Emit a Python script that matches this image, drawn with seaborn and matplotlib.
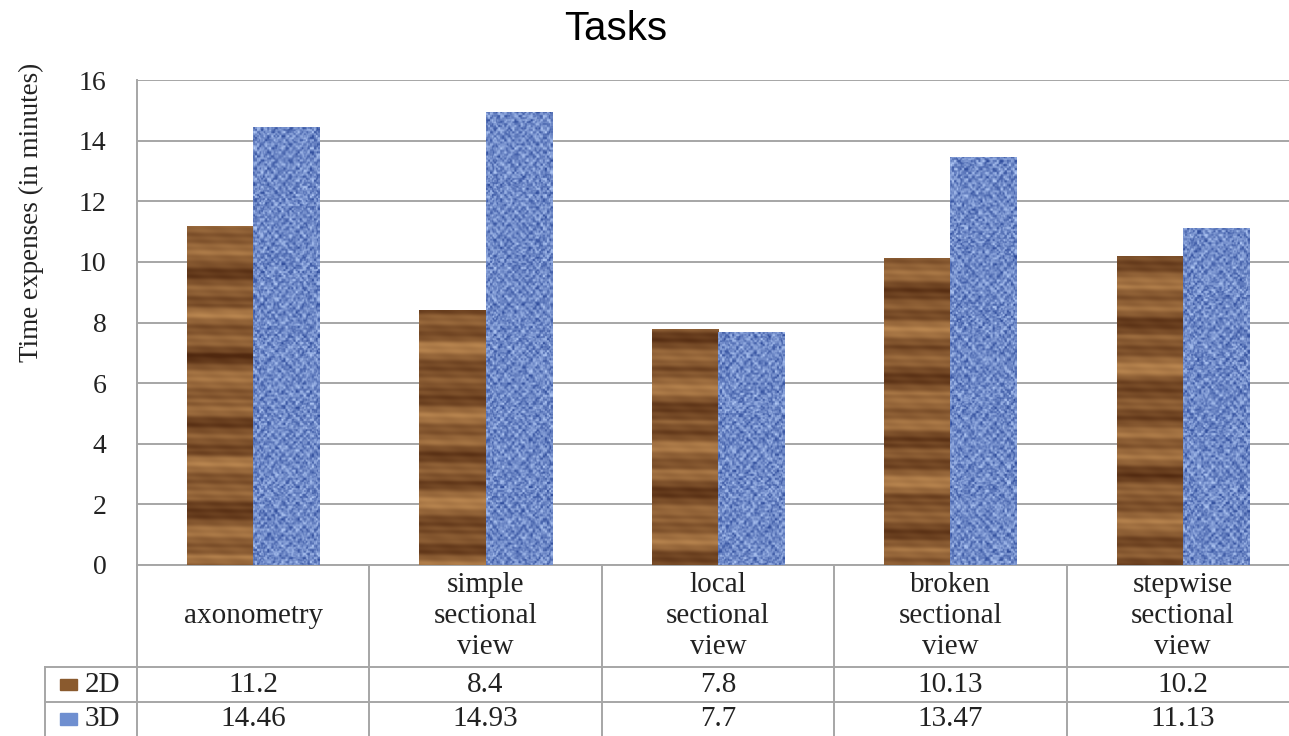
import numpy as np
import pandas as pd
import seaborn as sns
import matplotlib.pyplot as plt
from matplotlib.patches import Rectangle

# Chart data
tasks = ["axonometry", "simple\nsectional\nview", "local\nsectional\nview",
         "broken\nsectional\nview", "stepwise\nsectional\nview"]
values_2d = [11.2, 8.4, 7.8, 10.13, 10.2]
values_3d = [14.46, 14.93, 7.7, 13.47, 11.13]
series = ["2D", "3D"]
y_ticks = [0, 2, 4, 6, 8, 10, 12, 14, 16]

BROWN = "#8a5a2e"
BLUE = "#6f8fd0"
GRID = "#a6a6a6"


def hash_noise(x, y, seed):
    # deterministic pseudo noise for the fabric look
    v = np.sin(x * 12.9898 + y * 78.233 + seed * 3.17) * 43758.5453
    return v - np.floor(v)


def wood_texture(h, w, phase):
    y, x = np.mgrid[0:h, 0:w].astype(float)
    v = (0.55 + 0.20 * np.sin(y * 0.21 + phase + 0.8 * np.sin(y * 0.05))
         + 0.16 * np.sin(y * 0.083 + 2 * phase)
         - 0.22 * np.clip(np.sin(y * 0.13 + 3 * phase), 0.85, 1.0) * 4 + 0.7
         + 0.06 * np.sin(y * 0.9 + x * 0.02)
         + 0.03 * np.sin(x * 0.2 + y * 0.3))
    v = np.clip(v, 0, 1)
    dark = np.array([80, 40, 15]) / 255
    light = np.array([192, 140, 84]) / 255
    return dark + (light - dark) * v[..., None]


def fabric_texture(h, w, seed):
    y, x = np.mgrid[0:h, 0:w].astype(float)
    weave = 0.5 + 0.25 * np.sign(np.sin(x * 0.9)) * np.sin(y * 0.8) \
        + 0.2 * np.sin(x * 0.45 + 1.0) * np.sin(y * 0.4)
    v = 0.55 * weave + 0.45 * hash_noise(np.floor(x / 2), np.floor(y / 2), seed)
    v = np.clip(v, 0, 1)
    dark = np.array([38, 68, 150]) / 255
    light = np.array([185, 208, 250]) / 255
    return dark + (light - dark) * v[..., None]


df = pd.DataFrame({
    "Task": tasks * 2,
    "Time": values_2d + values_3d,
    "Mode": [series[0]] * len(tasks) + [series[1]] * len(tasks),
})

plt.rcParams["font.family"] = ["Liberation Serif", "DejaVu Serif"]

fig = plt.figure(figsize=(12.89, 7.36), dpi=100)
ax = fig.add_axes([137 / 1289, 1 - 565 / 736, 1162 / 1289, 485 / 736])

sns.barplot(data=df, x="Task", y="Time", hue="Mode", palette=[BROWN, BLUE],
            width=0.57, gap=0, legend=False, edgecolor="none", ax=ax,
            zorder=2)

# textures clipped to each bar
for k, container in enumerate(ax.containers):
    for j, bar in enumerate(container):
        x0, y0 = bar.get_x(), bar.get_y()
        bw, bh = bar.get_width(), bar.get_height()
        rows = max(int(bh * 30), 2)
        tex = wood_texture(rows, 66, j * 1.3) if k == 0 else fabric_texture(rows, 66, j)
        im = ax.imshow(tex, extent=[x0, x0 + bw, y0, y0 + bh], origin="lower",
                       aspect="auto", interpolation="bilinear", zorder=3)
        im.set_clip_path(bar)

ax.set_xlim(-0.5, len(tasks) - 0.5)
ax.set_ylim(0, 16)
ax.set_yticks(y_ticks)
ax.yaxis.grid(True, color=GRID, linewidth=1.4)
ax.set_axisbelow(True)
ax.tick_params(axis="y", length=0, pad=22, labelsize=20, colors="#222222")
ax.tick_params(axis="x", length=0, labelbottom=False)
ax.set_xlabel("")
ax.set_ylabel("")
for side in ["top", "right"]:
    ax.spines[side].set_visible(False)
for side in ["left", "bottom"]:
    ax.spines[side].set_color(GRID)
    ax.spines[side].set_linewidth(1.4)

# data table below the axis
xt = ax.get_xaxis_transform()
row_top, row_mid, row_bot = -0.2103, -0.2825, -0.3526
left_col = -0.0792
for b in np.arange(-0.5, len(tasks) + 0.5, 1.0):
    ax.plot([b, b], [0, row_bot], transform=xt, color=GRID, lw=1.4, clip_on=False)
for yy in [row_top, row_mid]:
    ax.plot([left_col, 1.0], [yy, yy], transform=ax.transAxes, color=GRID,
            lw=1.4, clip_on=False)
ax.plot([left_col, left_col], [row_top, row_bot], transform=ax.transAxes,
        color=GRID, lw=1.4, clip_on=False)

for i, name in enumerate(tasks):
    ax.text(i, -0.106, name, transform=xt, ha="center", va="center",
            fontsize=21, linespacing=1.25, color="#222222")
    ax.text(i, (row_top + row_mid) / 2, f"{values_2d[i]:g}", transform=xt,
            ha="center", va="center", fontsize=21, color="#222222")
    ax.text(i, (row_mid + row_bot) / 2, f"{values_3d[i]:g}", transform=xt,
            ha="center", va="center", fontsize=21, color="#222222")

# row labels with legend keys
for yy, label, col in [((row_top + row_mid) / 2, series[0], BROWN),
                       ((row_mid + row_bot) / 2, series[1], BLUE)]:
    ax.add_patch(Rectangle((-0.0663, yy - 0.012), 0.0146, 0.024,
                           transform=ax.transAxes, color=col, clip_on=False))
    ax.text(-0.0447, yy, label, transform=ax.transAxes, ha="left", va="center",
            fontsize=21, color="#222222")

fig.text(616 / 1289, 1 - 29 / 736, "Tasks", ha="center", va="center",
         fontsize=29, family=["Liberation Sans", "DejaVu Sans"])
fig.text(31 / 1289, 1 - 212 / 736, "Time expenses (in minutes)", rotation=90,
         ha="center", va="center", fontsize=19.5, color="#222222")

fig.savefig("out.png", dpi=100)
